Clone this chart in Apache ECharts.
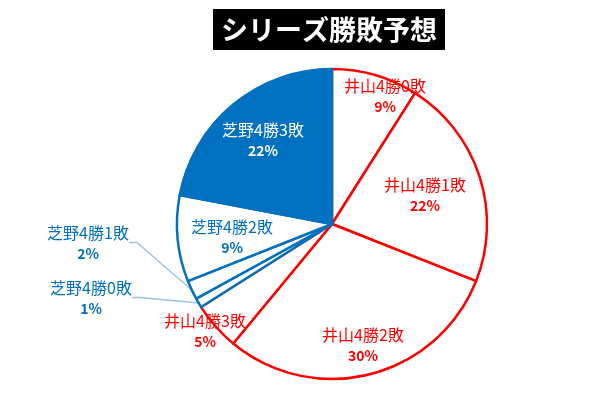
<!DOCTYPE html>
<html>
<head>
<meta charset="utf-8">
<style>
    html, body { margin: 0; padding: 0; background: #fff; }
    #main { width: 600px; height: 397px; }
</style>
<script src="https://cdn.jsdelivr.net/npm/echarts@6/dist/echarts.min.js"></script>
</head>
<body>
<div id="main"></div>
<script>
// シリーズ勝敗予想
var names = ['井山4勝0敗', '井山4勝1敗', '井山4勝2敗', '井山4勝3敗', '芝野4勝0敗', '芝野4勝1敗', '芝野4勝2敗', '芝野4勝3敗'];
var values = [9, 22, 30, 5, 1, 2, 9, 22];
var side = ['井山', '井山', '井山', '井山', '芝野', '芝野', '芝野', '芝野'];

// label centres (layout only)
var labelAt = [[385, 96], [425, 195], [363, 345], [205, 331], [91, 298], [88, 243], [232, 237], [263, 140]];
var outsideIdx = [4, 5];

var RED = '#FF0000';
var BLUE = '#0070C0';

var pieData = names.map(function (name, i) {
    var isRed = side[i] == '井山';
    var lineColor = isRed ? RED : BLUE;
    var filled = i == 7; // 芝野4勝3敗 は塗りつぶし
    var outside = outsideIdx.indexOf(i) >= 0;
    return {
        name: name,
        value: values[i],
        itemStyle: {
            color: filled ? BLUE : '#ffffff',
            borderColor: lineColor,
            borderWidth: 2.5
        },
        label: {
            position: outside ? 'outside' : 'inside',
            rich: {
                n: { fontSize: 16, lineHeight: 21, color: filled ? '#ffffff' : lineColor, fontFamily: 'Noto Sans CJK JP' },
                p: { fontSize: 14, lineHeight: 21, fontWeight: 'bold', color: filled ? '#ffffff' : lineColor, fontFamily: 'Noto Sans CJK JP' }
            }
        },
        labelLine: {
            show: outside,
            length: 10,
            length2: 8,
            lineStyle: { color: '#9DC3E6', width: 1.5 }
        }
    };
});

var chart = echarts.init(document.getElementById('main'));
chart.setOption({
    animation: false,
    title: {
        text: 'シリーズ勝敗予想',
        left: 213,
        top: 9,
        backgroundColor: '#000000',
        padding: [5, 8],
        textStyle: {
            color: '#ffffff',
            fontSize: 27,
            lineHeight: 31,
            fontWeight: 'bold',
            fontFamily: 'Noto Sans CJK JP'
        }
    },
    series: [{
        type: 'pie',
        center: [332, 224],
        radius: [0, 155],
        startAngle: 90,
        clockwise: true,
        silent: true,
        emphasis: { disabled: true },
        label: {
            show: true,
            formatter: '{n|{b}}\n{p|{c}%}'
        },
        labelLayout: function (params) {
            var p = labelAt[params.dataIndex];
            return { x: p[0], y: p[1], align: 'center', verticalAlign: 'middle' };
        },
        data: pieData
    }]
});
</script>
</body>
</html>
